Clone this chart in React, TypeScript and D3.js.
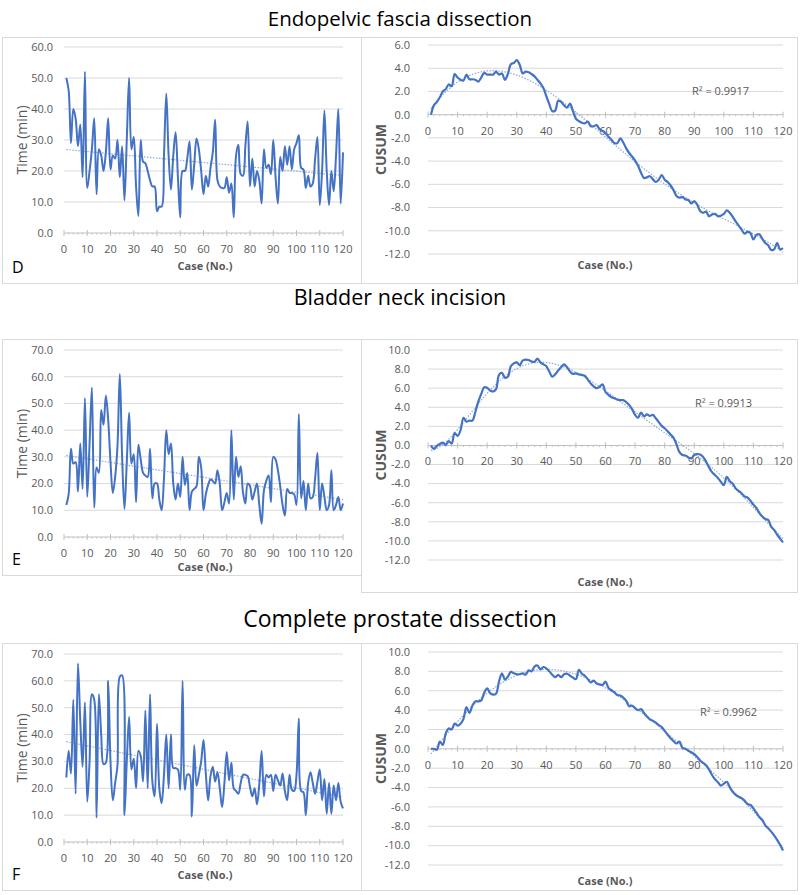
import React from 'react'
import * as d3 from 'd3'

// case numbers on the x axis
const cases = d3.range(1, 121)

// Endopelvic fascia dissection
const fasciaTime = [
  50, 46, 29, 40, 37, 28, 35, 18, 52, 14.5, 20, 27, 37, 12.5, 27, 25, 20, 26, 37, 20.5,
  25, 24, 30, 18, 28, 10.5, 30, 50, 27, 31, 15, 5.5, 30, 23, 22.5, 20, 17, 15, 15, 7,
  8.5, 8.5, 25, 45, 25, 14, 25, 32.5, 18, 5, 20, 20, 24, 29.5, 14, 22, 30.5, 27, 20, 12.5,
  18.5, 15, 21, 26, 36.5, 17, 15, 14.5, 14.5, 18, 13, 16, 5, 25, 28.5, 19, 18.5, 28, 36, 15,
  24, 15, 20, 17, 9.5, 27, 21, 22, 19, 30, 18, 9.5, 24.5, 20, 28, 22, 28, 20.5, 27, 29,
  31.5, 21, 20.5, 14.5, 18.5, 15, 16, 24, 31, 9, 20, 39.5, 20, 9, 20, 13.5, 25, 40, 9.5, 26,
]
const fasciaCusum = [
  0, 0.8, 1.1, 1.5, 2.0, 2.2, 2.6, 2.45, 3.5, 3.2, 3.0, 2.95, 3.45, 3.05, 3.05, 3.0, 2.85, 3.2, 3.6, 3.45,
  3.45, 3.45, 3.7, 3.45, 3.55, 3.0, 3.5, 4.35, 4.45, 4.7, 4.3, 3.55, 3.7, 3.65, 3.5, 3.3, 3.0, 2.7, 2.3, 1.6,
  0.9, 0.3, 0.35, 1.2, 1.1, 0.8, 0.6, 0.95, 0.3, -0.35, -0.55, -0.7, -0.75, -0.6, -1.0, -1.0, -0.9, -1.25, -1.4, -1.6,
  -1.9, -2.15, -2.45, -2.45, -2.05, -2.4, -2.9, -3.3, -3.6, -3.95, -4.4, -5.0, -5.45, -5.4, -5.3, -5.55, -5.8, -5.6, -5.2, -5.6,
  -5.8, -6.1, -6.5, -7.0, -7.15, -7.1, -7.3, -7.35, -7.65, -7.45, -7.75, -8.3, -8.45, -8.35, -8.75, -8.6, -8.55, -8.75, -8.7, -8.55,
  -8.25, -8.45, -8.8, -9.2, -9.55, -9.9, -10.25, -10.1, -10.2, -10.75, -10.35, -10.3, -10.7, -11.05, -11.25, -11.65, -11.6, -11.05, -11.6, -11.5,
]

// Bladder neck incision
const bladderTime = [
  12, 16, 33, 27.5, 28, 17, 35, 18, 52, 15, 35, 56, 11, 26, 24, 47.5, 42, 53, 44, 28,
  16.5, 22.5, 34, 61, 30, 10.5, 28, 46.5, 27.5, 31, 13, 34.5, 29, 24, 23, 22.5, 33, 14.5, 20, 20,
  14, 10, 22, 40, 31, 35, 20, 14, 20, 15, 30, 19.5, 24, 10, 17, 18, 19, 30, 26, 10,
  16, 19.5, 21.5, 21, 20, 25, 20, 10, 13, 16.5, 12.5, 40, 14, 30, 22.5, 26.5, 16.5, 12.5, 20, 19,
  14, 17, 20, 12, 5, 17.5, 21, 23, 13, 30, 29, 25, 19, 12, 8, 18, 16.5, 16.5, 16, 12,
  46, 14.5, 21, 10, 20, 14.5, 15, 22, 31.5, 10, 20, 15, 10, 12, 25, 10, 12, 15, 10, 12.5,
]
const bladderCusum = [
  0, -0.35, -0.05, 0.15, 0.3, 0.05, 0.45, 0.2, 1.3, 1.0, 1.6, 2.9, 2.5, 2.6, 2.6, 3.5, 4.6, 5.4, 6.1, 6.05,
  5.75, 5.65, 5.9, 7.4, 7.6, 7.1, 7.2, 8.3, 8.6, 8.7, 8.4, 8.9, 9.0, 8.95, 8.8, 8.75, 9.1, 8.7, 8.5, 8.3,
  7.75, 7.2, 7.45, 7.85, 8.2, 8.5, 8.2, 7.75, 7.5, 7.55, 7.45, 7.4, 7.3, 6.9, 6.5, 6.2, 6.0, 6.15, 6.4, 5.6,
  5.3, 5.05, 4.95, 4.8, 4.75, 4.75, 4.55, 4.25, 3.8, 3.2, 2.9, 3.45, 3.05, 3.25, 3.1, 3.2, 2.85, 2.45, 2.05, 1.8,
  1.5, 1.15, 0.8, 0.1, -0.7, -1.0, -1.05, -1.25, -1.35, -1.0, -0.9, -0.95, -1.2, -1.7, -2.3, -2.8, -3.1, -3.4, -3.8, -4.15,
  -3.3, -3.75, -4.0, -4.5, -4.75, -5.0, -5.35, -5.45, -5.8, -6.2, -6.55, -7.05, -7.45, -7.7, -7.8, -8.5, -8.85, -9.35, -9.75, -10.15,
]

// Complete prostate dissection
const prostateTime = [
  24, 34, 25.5, 53, 18, 66.5, 45, 28, 52, 15, 30, 55, 53, 9, 55, 40, 29, 29.5, 60, 30,
  15.5, 22, 28.5, 61.5, 62, 10, 30, 46.5, 27, 31, 20, 34, 32, 22.5, 49, 20, 55, 22.5, 17, 44,
  20, 14.5, 25, 40, 20, 40, 27.5, 27.5, 27, 19.5, 60, 19.5, 25, 25, 9.5, 36, 21, 25, 30, 38,
  25.5, 15.5, 24.5, 28, 22.5, 26, 20, 13, 22, 33.5, 23, 29.5, 20, 19, 18, 22, 25, 25, 24.5, 20.5,
  17, 20, 14, 21.5, 34, 17, 25, 24, 25, 19, 25, 23, 21, 25.5, 19, 15.5, 25, 19.5, 19, 25,
  46, 19, 18.5, 10, 22, 26, 22, 18, 22.5, 27, 15.5, 23.5, 10.5, 22, 10.5, 21, 15.5, 22, 15, 12.5,
]
const prostateCusum = [
  0, 0, -0.1, 0.75, 0.4, 1.6, 2.1, 2.0, 2.6, 2.4, 2.6, 3.1, 4.3, 3.7, 4.45, 4.9, 4.9, 5.0, 5.8, 6.25,
  5.75, 5.6, 5.7, 6.95, 7.8, 7.15, 7.45, 7.95, 7.8, 7.7, 7.7, 7.8, 7.65, 8.1, 8.0, 8.5, 8.6, 8.2, 8.45, 8.3,
  8.0, 7.65, 7.4, 7.65, 7.4, 7.7, 7.75, 7.55, 7.35, 7.2, 8.15, 7.75, 7.55, 7.2, 6.85, 7.05, 6.75, 6.65, 6.6, 6.95,
  6.3, 6.05, 5.85, 5.55, 5.5, 5.3, 4.95, 4.4, 4.45, 4.2, 4.0, 4.1, 3.7, 3.35, 3.05, 2.9, 2.7, 2.45, 2.25, 1.85,
  1.45, 1.1, 0.8, 0.55, 0.75, 0.1, 0.0, -0.2, -0.35, -0.55, -0.85, -1.2, -1.45, -1.7, -2.15, -2.7, -3.15, -3.45, -3.8, -3.6,
  -3.4, -3.95, -4.45, -4.75, -4.95, -5.1, -5.35, -5.7, -5.8, -6.15, -6.6, -7.05, -7.35, -7.9, -8.2, -8.55, -8.95, -9.4, -9.9, -10.5,
]

const titles = ['Endopelvic fascia dissection', 'Bladder neck incision', 'Complete prostate dissection']
const panelLetters = ['D', 'E', 'F']
const rSquared = ['R² = 0.9917', 'R² = 0.9913', 'R² = 0.9962']
const timeMax = [60, 70, 70]
const cusumDomains: [number, number][] = [[-12, 6], [-12, 10], [-12, 10]]
const xTicks = d3.range(0, 121, 10)

const BLUE = '#4472C4'
const GRID = '#d9d9d9'
const AXIS = '#bfbfbf'
const LABEL = '#595959'
const FONT = "'Open Sans', sans-serif"

// least squares polynomial fit, like Excel's trendline
function polyFit(xs: number[], ys: number[], deg: number) {
  const n = deg + 1
  const A: number[][] = Array.from({ length: n }, () => new Array(n + 1).fill(0))
  xs.forEach((x, k) => {
    const t = x / 120
    for (let i = 0; i < n; i++) {
      for (let j = 0; j < n; j++) A[i][j] += Math.pow(t, i + j)
      A[i][n] += Math.pow(t, i) * ys[k]
    }
  })
  for (let c = 0; c < n; c++) {
    let p = c
    for (let r = c + 1; r < n; r++) if (Math.abs(A[r][c]) > Math.abs(A[p][c])) p = r
    const tmp = A[c]; A[c] = A[p]; A[p] = tmp
    for (let r = 0; r < n; r++) {
      if (r === c) continue
      const f = A[r][c] / A[c][c]
      for (let k = c; k <= n; k++) A[r][k] -= f * A[c][k]
    }
  }
  const coef = A.map((row, i) => row[n] / row[i])
  return (x: number) => coef.reduce((s, c, i) => s + c * Math.pow(x / 120, i), 0)
}

// panel boxes and plot areas
const rows = [
  { titleY: 26, titleSize: 20.5, left: { box: [2, 37, 359, 246], plotY: [233, 47], caseDy: 33 }, right: { box: [361, 37, 436, 246], plotY: [254, 45], caseDy: 11, r2: [692, 2.0] } },
  { titleY: 305, titleSize: 21.5, left: { box: [2, 339, 359, 236], plotY: [537, 350], caseDy: 30 }, right: { box: [361, 339, 436, 253], plotY: [560, 350], caseDy: 22, r2: [695, 4.4] } },
  { titleY: 627, titleSize: 23, left: { box: [2, 643, 359, 247], plotY: [842, 654], caseDy: 33 }, right: { box: [361, 643, 436, 247], plotY: [865, 652], caseDy: 16, r2: [700, 3.8] } },
]

const leftX = d3.scaleLinear().domain([0, 120]).range([64, 343])
const rightX = d3.scaleLinear().domain([0, 120]).range([428, 783])

function TimePanel({ row, i, values }: { row: any; i: number; values: number[] }) {
  const [bx, by, bw, bh] = row.left.box
  const y = d3.scaleLinear().domain([0, timeMax[i]]).range(row.left.plotY)
  const yTicks = d3.range(0, timeMax[i] + 1, 10)
  const line = d3.line<number>().x((_, k) => leftX(cases[k])).y(d => y(d)).curve(d3.curveCatmullRom.alpha(0.5))
  const fit = polyFit(cases, values, 1)
  const trend = d3.line<number>().x(d => leftX(d)).y(d => y(fit(d)))
  const y0 = y(0)
  return (
    <g>
      <rect x={bx + 0.5} y={by + 0.5} width={bw} height={bh} fill="#fff" stroke={GRID} />
      {yTicks.map(t => (
        <g key={t}>
          {t > 0 && <line x1={leftX(0)} x2={leftX(120)} y1={y(t)} y2={y(t)} stroke={GRID} />}
          <text x={53} y={y(t)} dy="0.35em" textAnchor="end" fontSize={11} fill={LABEL}>{t.toFixed(1)}</text>
        </g>
      ))}
      <line x1={leftX(0)} x2={leftX(120)} y1={y0} y2={y0} stroke={AXIS} />
      {d3.range(0, 121, 2).map(t => (
        <line key={t} x1={leftX(t)} x2={leftX(t)} y1={y0 - (t % 10 === 0 ? 3 : 0)} y2={y0 + (t % 10 === 0 ? 3 : 1.5)} stroke={AXIS} />
      ))}
      {xTicks.map(t => (
        <text key={t} x={leftX(t)} y={y0 + 16} dy="0.35em" textAnchor="middle" fontSize={11} fill={LABEL}>{t}</text>
      ))}
      <path d={trend([1, 120]) || ''} fill="none" stroke="#8eaadb" strokeWidth={1.2} strokeDasharray="1.5 1.5" />
      <path d={line(values) || ''} fill="none" stroke={BLUE} strokeWidth={2} strokeLinejoin="round" />
      <text transform={`translate(22,${(row.left.plotY[0] + row.left.plotY[1]) / 2}) rotate(-90)`} dy="0.35em" textAnchor="middle" fontSize={14} fill={LABEL}>Time (min)</text>
      <text x={205} y={y0 + row.left.caseDy} dy="0.35em" textAnchor="middle" fontSize={11} fontWeight="bold" fill={LABEL}>Case (No.)</text>
      <text x={12} y={by + bh - 10} fontSize={16} fill="#000">{panelLetters[i]}</text>
    </g>
  )
}

function CusumPanel({ row, i, values }: { row: any; i: number; values: number[] }) {
  const [bx, by, bw, bh] = row.right.box
  const dom = cusumDomains[i]
  const y = d3.scaleLinear().domain(dom).range(row.right.plotY)
  const yTicks = d3.range(dom[0], dom[1] + 1, 2)
  const line = d3.line<number>().x((_, k) => rightX(cases[k])).y(d => y(d)).curve(d3.curveCatmullRom.alpha(0.5))
  const fit = polyFit(cases, values, 6)
  const trend = d3.line<number>().x(d => rightX(d)).y(d => y(fit(d)))
  const y0 = y(0)
  const [p0, p1] = row.right.plotY
  const [rx, ry] = row.right.r2
  return (
    <g>
      <rect x={bx + 0.5} y={by + 0.5} width={bw} height={bh} fill="#fff" stroke={GRID} />
      {yTicks.map(t => (
        <g key={t}>
          {t !== 0 && <line x1={rightX(0)} x2={rightX(120)} y1={y(t)} y2={y(t)} stroke={GRID} />}
          <text x={410} y={y(t)} dy="0.35em" textAnchor="end" fontSize={11} fill={LABEL}>{t.toFixed(1)}</text>
        </g>
      ))}
      <line x1={rightX(0)} x2={rightX(120)} y1={y0} y2={y0} stroke={AXIS} />
      {d3.range(0, 121, 2).map(t => (
        <line key={t} x1={rightX(t)} x2={rightX(t)} y1={y0 - (t % 10 === 0 ? 3 : 0)} y2={y0 + (t % 10 === 0 ? 3 : 1.5)} stroke={AXIS} />
      ))}
      {xTicks.map(t => (
        <text key={t} x={rightX(t)} y={y0 + 16} dy="0.35em" textAnchor="middle" fontSize={11} fill={LABEL}>{t}</text>
      ))}
      <path d={trend(d3.range(1, 120.01, 0.5)) || ''} fill="none" stroke="#8eaadb" strokeWidth={1.2} strokeDasharray="1.5 1.5" />
      <path d={line(values) || ''} fill="none" stroke={BLUE} strokeWidth={2.2} strokeLinejoin="round" />
      <text transform={`translate(381,${(p0 + p1) / 2}) rotate(-90)`} dy="0.35em" textAnchor="middle" fontSize={14} fontWeight="bold" fill={LABEL}>CUSUM</text>
      <text x={605} y={p0 + row.right.caseDy} dy="0.35em" textAnchor="middle" fontSize={11} fontWeight="bold" fill={LABEL}>Case (No.)</text>
      <text x={rx} y={y(ry)} dy="0.35em" fontSize={11} fill={LABEL}>{rSquared[i]}</text>
    </g>
  )
}

const series = [
  [fasciaTime, fasciaCusum],
  [bladderTime, bladderCusum],
  [prostateTime, prostateCusum],
]

export default function App() {
  return (
    <svg width={800} height={895} style={{ position: 'absolute', left: 0, top: 0, background: '#fff' }} fontFamily={FONT}>
      {rows.map((row, i) => (
        <g key={i}>
          <text x={400} y={row.titleY} textAnchor="middle" fontSize={row.titleSize} fill="#000">{titles[i]}</text>
          <TimePanel row={row} i={i} values={series[i][0]} />
          <CusumPanel row={row} i={i} values={series[i][1]} />
        </g>
      ))}
    </svg>
  )
}
